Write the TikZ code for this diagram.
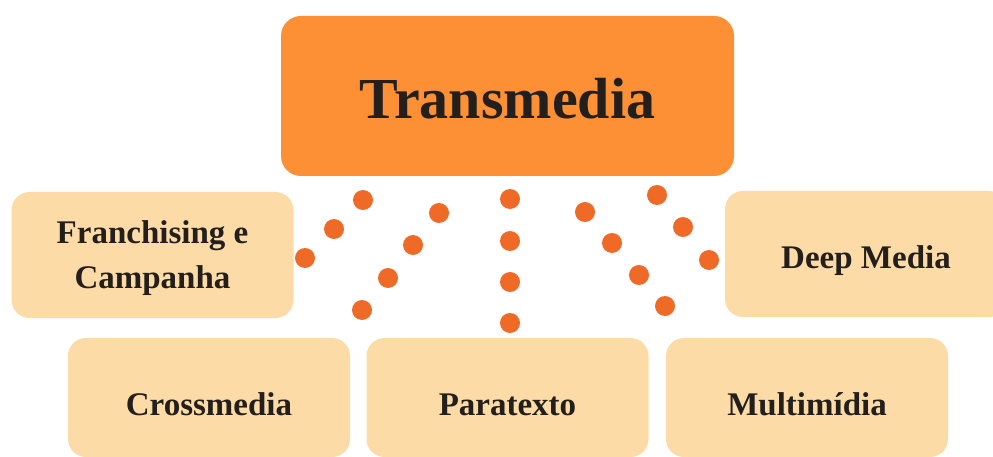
\documentclass[tikz,border=0pt]{standalone}
\usepackage{fontspec}
\setmainfont{Liberation Serif}
\definecolor{topcol}{HTML}{FD8F34}
\definecolor{subcol}{HTML}{FCDBA6}
\definecolor{beadcol}{HTML}{EF6A26}
\definecolor{txtcol}{HTML}{231F1C}
\tikzset{
  topbox/.style={fill=topcol, rounded corners=20pt, minimum width=453pt, minimum height=160pt, text=txtcol, text height=46pt, text depth=0pt, font=\fontsize{58}{60}\selectfont\bfseries},
  subbox/.style={fill=subcol, rounded corners=18pt, minimum width=282pt, minimum height=126pt, text=txtcol, align=center, font=\fontsize{33}{45}\selectfont\bfseries},
  lowbox/.style={subbox, minimum height=119pt, text height=35pt, text depth=0pt},
  bead/.style={fill=beadcol}
}

\begin{document}
\begin{tikzpicture}[x=1pt, y=-1pt]
\useasboundingbox (0,0) rectangle (993,457);
\clip (0,0) rectangle (993,457);

\path (507.5,96) node[topbox] (trans) {Transmedia};

\path (152.5,255) node[subbox] (fran) {\rule{0pt}{30pt}Franchising e\\Campanha};
\path (866,254) node[subbox, text height=28pt, text depth=0pt] (deep) {Deep Media};

\path (209,397.5) node[lowbox] (cross) {Crossmedia};
\path (507.5,397.5) node[lowbox] (para) {Paratexto};
\path (807,397.5) node[lowbox] (multi) {Multimídia};

% dotted links
\foreach \x/\y in {305/258, 334/229, 363/200,
                   439/213, 413/245, 388/278, 362/310,
                   510/199, 510/241, 510/282, 510/323,
                   585/212, 612/243, 639/275, 665/306,
                   657/195, 683/227, 709/260}
  \fill[bead] (\x,\y) circle (10pt);
\end{tikzpicture}
\end{document}
